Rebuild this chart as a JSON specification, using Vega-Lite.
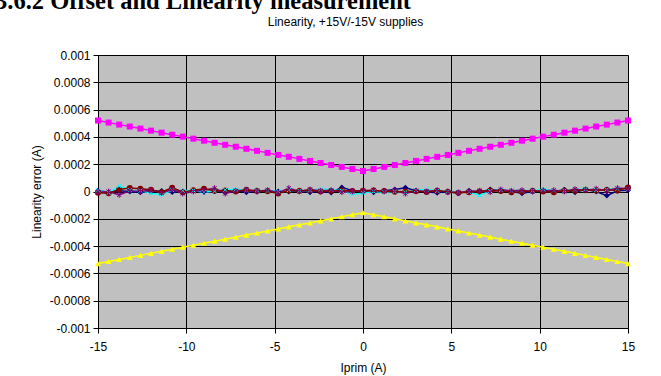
{
  "$schema": "https://vega.github.io/schema/vega-lite/v6.json",
  "width": 530,
  "height": 273,
  "autosize": {"type": "none"},
  "padding": {"left": 98, "top": 55, "right": 33, "bottom": 48},
  "background": "white",
  "config": {"view": {"fill": "#C0C0C0", "stroke": "#A0A0A0"}, "font": "Liberation Sans", "axis": {"labelOverlap": false}, "axisY": {"labelOverlap": false}},
  "title": {"text": "3.6.2 Offset and Linearity measurement", "font": "Liberation Serif", "fontSize": 24.5, "fontWeight": "bold", "anchor": "start", "frame": "group", "dx": -103, "offset": 1, "color": "black"},
  "data": {"values": [
    {"x": -15, "S1": 0.000005, "S2": 0.00052, "S3": -0.000528, "S4": 0.000008, "S5": -0.000005, "S6": -0.00001},
    {"x": -14.4, "S1": -0.000005, "S2": 0.000505, "S3": -0.000513, "S4": -0.00001, "S5": 0, "S6": -0.000012},
    {"x": -13.8, "S1": 0.000005, "S2": 0.00049, "S3": -0.000498, "S4": 0.00004, "S5": -0.000025, "S6": 0.000015},
    {"x": -13.2, "S1": 0, "S2": 0.000476, "S3": -0.000483, "S4": 0.00001, "S5": 0.000005, "S6": 0.000025},
    {"x": -12.6, "S1": -0.000005, "S2": 0.000461, "S3": -0.000468, "S4": 0.000005, "S5": 0, "S6": 0.00002},
    {"x": -12, "S1": 0, "S2": 0.000446, "S3": -0.000453, "S4": -0.000012, "S5": 0.00001, "S6": 0.000012},
    {"x": -11.4, "S1": 0.000003, "S2": 0.000431, "S3": -0.000438, "S4": -0.000025, "S5": -0.00001, "S6": -0.000005},
    {"x": -10.8, "S1": -0.000003, "S2": 0.000416, "S3": -0.000423, "S4": 0.00001, "S5": 0.000015, "S6": 0.000028},
    {"x": -10.2, "S1": 0, "S2": 0.000402, "S3": -0.000408, "S4": 0.000005, "S5": -0.000015, "S6": -0.000005},
    {"x": -9.6, "S1": 0.000005, "S2": 0.000387, "S3": -0.000393, "S4": 0.000008, "S5": 0, "S6": 0.00001},
    {"x": -9, "S1": -0.000003, "S2": 0.000372, "S3": -0.000379, "S4": -0.000005, "S5": 0.00001, "S6": 0.00002},
    {"x": -8.4, "S1": 0.000002, "S2": 0.000357, "S3": -0.000364, "S4": 0.000003, "S5": 0.000025, "S6": 0.000005},
    {"x": -7.8, "S1": -0.000008, "S2": 0.000342, "S3": -0.000349, "S4": 0.000012, "S5": -0.000015, "S6": 0.000008},
    {"x": -7.2, "S1": 0.000005, "S2": 0.000328, "S3": -0.000334, "S4": 0.000015, "S5": 0.000005, "S6": 0},
    {"x": -6.6, "S1": -0.000005, "S2": 0.000313, "S3": -0.000319, "S4": 0.00001, "S5": 0.00001, "S6": 0.000012},
    {"x": -6, "S1": 0, "S2": 0.000298, "S3": -0.000304, "S4": 0.000008, "S5": 0, "S6": 0.000005},
    {"x": -5.4, "S1": 0.000005, "S2": 0.000283, "S3": -0.000289, "S4": 0.000005, "S5": 0.00001, "S6": 0.000002},
    {"x": -4.8, "S1": 0, "S2": 0.000268, "S3": -0.000274, "S4": 0, "S5": -0.00001, "S6": -0.000015},
    {"x": -4.2, "S1": 0, "S2": 0.000254, "S3": -0.000259, "S4": 0.00001, "S5": 0.000025, "S6": 0.000008},
    {"x": -3.6, "S1": 0.000003, "S2": 0.000239, "S3": -0.000244, "S4": 0.000005, "S5": 0, "S6": 0.000005},
    {"x": -3, "S1": -0.000005, "S2": 0.000224, "S3": -0.00023, "S4": 0.000008, "S5": 0.000015, "S6": 0.00001},
    {"x": -2.4, "S1": 0, "S2": 0.000209, "S3": -0.000215, "S4": 0.000018, "S5": 0.000005, "S6": 0},
    {"x": -1.8, "S1": -0.000008, "S2": 0.000194, "S3": -0.0002, "S4": 0.000012, "S5": 0.00001, "S6": 0.000003},
    {"x": -1.2, "S1": 0.00003, "S2": 0.00018, "S3": -0.000185, "S4": 0.000005, "S5": -0.000005, "S6": 0.000008},
    {"x": -0.6, "S1": 0.000005, "S2": 0.000165, "S3": -0.00017, "S4": -0.00002, "S5": 0, "S6": 0.000003},
    {"x": 0, "S1": 0, "S2": 0.00015, "S3": -0.000155, "S4": -0.000012, "S5": 0.000005, "S6": 0.000005},
    {"x": 0.6, "S1": -0.000005, "S2": 0.000165, "S3": -0.00017, "S4": 0, "S5": 0.00001, "S6": 0.000008},
    {"x": 1.2, "S1": 0.000005, "S2": 0.00018, "S3": -0.000185, "S4": -0.000005, "S5": 0, "S6": 0.000003},
    {"x": 1.8, "S1": 0.000015, "S2": 0.000194, "S3": -0.0002, "S4": 0, "S5": 0.000008, "S6": -0.000002},
    {"x": 2.4, "S1": 0.000028, "S2": 0.000209, "S3": -0.000215, "S4": -0.000005, "S5": -0.000015, "S6": 0},
    {"x": 3, "S1": 0.000005, "S2": 0.000224, "S3": -0.00023, "S4": 0.00001, "S5": 0.000005, "S6": 0.000002},
    {"x": 3.6, "S1": -0.000003, "S2": 0.000239, "S3": -0.000244, "S4": 0.000015, "S5": 0, "S6": -0.000003},
    {"x": 4.2, "S1": -0.00001, "S2": 0.000254, "S3": -0.000259, "S4": 0.000005, "S5": 0.00001, "S6": 0.000005},
    {"x": 4.8, "S1": 0, "S2": 0.000268, "S3": -0.000274, "S4": 0, "S5": -0.000005, "S6": -0.000002},
    {"x": 5.4, "S1": -0.000012, "S2": 0.000283, "S3": -0.000289, "S4": -0.000005, "S5": -0.000008, "S6": -0.00001},
    {"x": 6, "S1": 0.000005, "S2": 0.000298, "S3": -0.000304, "S4": -0.000003, "S5": 0, "S6": -0.000005},
    {"x": 6.6, "S1": -0.000005, "S2": 0.000313, "S3": -0.000319, "S4": -0.000028, "S5": 0.000005, "S6": 0},
    {"x": 7.2, "S1": 0.000015, "S2": 0.000328, "S3": -0.000334, "S4": 0.000003, "S5": -0.000005, "S6": 0.000008},
    {"x": 7.8, "S1": 0.000005, "S2": 0.000342, "S3": -0.000349, "S4": 0.00001, "S5": 0.000015, "S6": 0.000003},
    {"x": 8.4, "S1": 0, "S2": 0.000357, "S3": -0.000364, "S4": 0.000005, "S5": 0.000005, "S6": -0.000005},
    {"x": 9, "S1": -0.000012, "S2": 0.000372, "S3": -0.000379, "S4": 0.000008, "S5": 0.00001, "S6": -0.000002},
    {"x": 9.6, "S1": 0, "S2": 0.000387, "S3": -0.000393, "S4": 0.000005, "S5": 0, "S6": 0.000005},
    {"x": 10.2, "S1": 0.00001, "S2": 0.000402, "S3": -0.000408, "S4": 0.000015, "S5": 0.000005, "S6": 0},
    {"x": 10.8, "S1": 0, "S2": 0.000416, "S3": -0.000423, "S4": 0.000008, "S5": 0.00001, "S6": -0.000005},
    {"x": 11.4, "S1": 0.000012, "S2": 0.000431, "S3": -0.000438, "S4": 0.000005, "S5": 0, "S6": 0.000008},
    {"x": 12, "S1": -0.000005, "S2": 0.000446, "S3": -0.000453, "S4": 0.000015, "S5": 0.000018, "S6": 0.000005},
    {"x": 12.6, "S1": 0.000015, "S2": 0.000461, "S3": -0.000468, "S4": 0.000018, "S5": 0.000008, "S6": 0.000012},
    {"x": 13.2, "S1": 0, "S2": 0.000476, "S3": -0.000483, "S4": 0.00001, "S5": 0.00002, "S6": 0.000008},
    {"x": 13.8, "S1": -0.00003, "S2": 0.00049, "S3": -0.000498, "S4": 0.000015, "S5": 0.000005, "S6": 0.000012},
    {"x": 14.4, "S1": 0.000005, "S2": 0.000505, "S3": -0.000513, "S4": 0.00002, "S5": 0.000025, "S6": 0.000008},
    {"x": 15, "S1": 0.00001, "S2": 0.00052, "S3": -0.000528, "S4": 0.000018, "S5": 0.00002, "S6": 0.00003}
  ]},
  "transform": [{"fold": ["S1", "S2", "S3", "S4", "S5", "S6"], "as": ["series", "y"]}],
  "encoding": {
    "y": {"field": "y", "type": "quantitative", "scale": {"domain": [-0.001, 0.001], "nice": false, "zero": false},
      "axis": {"values": [-0.001, -0.0008, -0.0006, -0.0004, -0.0002, 0, 0.0002, 0.0004, 0.0006, 0.0008, 0.001],
        "labelExpr": "datum.value == 0 ? '0' : replace(format(datum.value, '~g'), '\u2212', '-')",
        "grid": true, "gridColor": "black", "gridOpacity": 1, "gridWidth": 1,
        "domainColor": "black", "tickColor": "black", "tickSize": 5, "labelFont": "Liberation Sans", "labelFontSize": 12, "labelColor": "black",
        "labelPadding": 3, "labelFlush": false, "labelOverlap": false, "labelBound": false,
        "title": "Linearity error (A)", "titleFont": "Liberation Sans", "titleFontSize": 12, "titleFontWeight": "normal", "titleColor": "black", "titlePadding": 6}},
    "color": {"field": "series", "type": "nominal", "legend": null,
      "scale": {"domain": ["S1", "S2", "S3", "S4", "S5", "S6"], "range": ["#000080", "#FF00FF", "#FFFF00", "#00FFFF", "#800080", "#800000"]}}
  },
  "layer": [
    {
      "mark": {"type": "line", "strokeWidth": 1.5, "clip": false},
      "encoding": {
        "x": {"field": "x", "type": "quantitative", "scale": {"domain": [-15, 15], "nice": false, "zero": false},
          "axis": {"values": [-15, -10, -5, 0, 5, 10, 15], "grid": true, "gridColor": "black", "gridOpacity": 1, "gridWidth": 1,
            "domainColor": "black", "tickColor": "black", "tickSize": 5, "labelFont": "Liberation Sans", "labelFontSize": 12, "labelColor": "black",
            "labelPadding": 8, "labelExpr": "replace(datum.label, '\u2212', '-')", "labelFlush": false, "labelOverlap": false,
            "title": "Iprim (A)", "titleFont": "Liberation Sans", "titleFontSize": 12, "titleFontWeight": "normal", "titleColor": "black", "titlePadding": 10}}
      }
    },
    {
      "transform": [{"filter": {"field": "series", "oneOf": ["S1", "S2", "S3", "S6"]}}],
      "mark": {"type": "point", "filled": true, "opacity": 1, "size": 36, "clip": false},
      "encoding": {
        "x": {"field": "x", "type": "quantitative", "axis": null},
        "shape": {"field": "series", "type": "nominal", "legend": null,
          "scale": {"domain": ["S1", "S2", "S3", "S4", "S5", "S6"], "range": ["diamond", "square", "triangle-up", "M-0.7,-0.7L0.7,0.7M-0.7,0.7L0.7,-0.7", "M-0.7,-0.7L0.7,0.7M-0.7,0.7L0.7,-0.7M0,-1L0,1", "circle"]}}
      }
    },
    {
      "transform": [{"filter": {"field": "series", "oneOf": ["S4", "S5"]}}],
      "mark": {"type": "point", "filled": false, "opacity": 1, "size": 34, "strokeWidth": 1, "clip": false},
      "encoding": {
        "x": {"field": "x", "type": "quantitative",
          "axis": {"orient": "top", "labels": false, "ticks": false, "domain": false, "grid": false,
            "title": "Linearity, +15V/-15V supplies", "titleFont": "Liberation Sans", "titleFontSize": 12, "titleFontWeight": "normal", "titleColor": "black",
            "titleX": 247, "titleY": -30, "titleBaseline": "alphabetic", "titleAnchor": "middle", "titleAlign": "center"}},
        "shape": {"field": "series", "type": "nominal", "legend": null}
      }
    }
  ],
  "resolve": {"axis": {"x": "independent"}}
}
